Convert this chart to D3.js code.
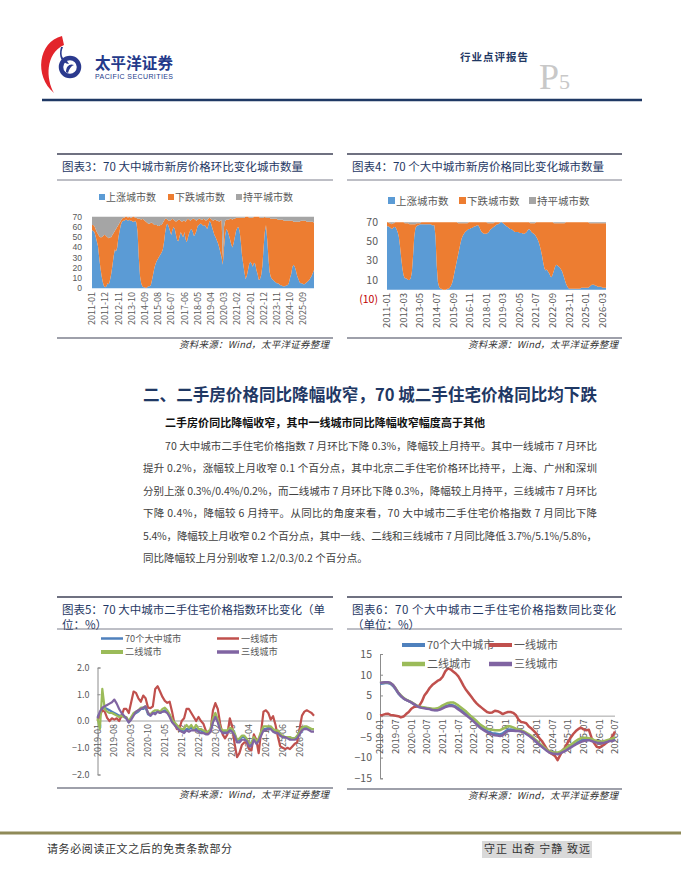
<!DOCTYPE html>
<html>
<head>
<meta charset="utf-8">
<script src="https://cdn.jsdelivr.net/npm/d3@7"></script>
<style>
body { margin: 0; background: #fff; }
svg { display: block; font-family: "Noto Sans CJK SC", "Noto Sans", sans-serif; }
</style>
</head>
<body>
<div id="page"></div>
<script>
// ---- data: new-home city counts, monthly from 2011-01 (186 months) ----
const mmUp = [57,56,55,51,46,41,30,20,12,6, 2,1,2,5,4,8,14,22,31,38, 36,40,50,56,62,65,66,66,67,67,
  66,67,66,66,65,65,66,64,55,30, 12,5,2,1,1,0,1,2,2,3, 8,14,20,24,27,29,31,33,35,38,
  45,55,62,63,60,56,52,57,60,58, 52,47,46,51,55,52,50,55,48,45, 50,54,57,58,55,51,53,56,61,62,
  63,63,62,61,62,60,58,62,66,64, 60,56,52,50,47,44,40,35,30,23, 40,52,58,56,52,48,43,40,44,50,
  56,59,60,56,46,32,24,16,9,12, 18,24,26,24,21,25,24,18,14,8, 9,13,22,40,55,62,48,30,16,11,
  9,8,7,6,5,5,4,3,3,2, 2,2,3,3,5,10,14,21,23,21, 17,12,9,6,5,5,4,4,5,6, 7,8,10,12,15,18];
const mmDown = [5,6,6,7,9,12,21,30,38,45, 50,51,49,45,45,42,36,30,23,18, 22,20,12,8,4,3,3,3,3,3,
  3,3,3,3,5,5,3,5,13,38, 56,62,66,66,65,65,63,61,61,61, 56,49,42,38,35,32,30,29,27,26,
  21,13,6,4,6,10,15,11,7,8, 13,19,21,16,11,13,16,11,17,22, 18,13,9,9,13,17,14,10,6,6,
  5,4,5,7,5,6,9,6,3,4, 7,10,15,17,19,22,25,31,37,7, 20,14,9,11,15,20,25,27,24,18,
  13,10,9,13,23,37,45,53,61,58, 52,45,43,45,48,45,46,52,56,62, 60,56,47,29,15,7,21,39,53,57,
  59,60,61,62,63,62,63,64,64,65, 64,64,63,63,61,56,52,45,42,44, 48,53,56,59,61,61,62,62,61,59, 58,57,55,53,50,46];
const mmFlat = [8,8,9,12,15,17,19,20,20,19, 18,18,19,20,21,20,20,18,16,14, 12,10,8,6,4,2,1,1,0,0,
  1,0,1,1,0,0,1,1,2,2, 2,3,2,3,4,5,6,7,7,6, 6,7,8,8,8,9,9,8,8,6,
  4,2,2,3,4,4,3,2,3,4, 5,4,3,3,4,5,4,4,5,3, 2,3,4,3,2,2,3,4,3,2,
  2,3,3,2,3,4,3,2,1,2, 3,4,3,3,4,4,5,4,3,40, 10,4,3,3,3,2,2,3,2,2,
  1,1,1,1,1,1,1,1,0,0, 0,1,1,1,1,0,0,0,0,0, 1,1,1,1,0,1,1,1,1,2,
  2,2,2,2,2,3,3,3,3,3, 4,4,4,4,4,4,4,4,5,5, 5,5,5,5,4,4,4,4,4,5, 5,5,5,5,5,6];
const mmTicks = ["2011-01","2011-12","2012-11","2013-10","2014-09","2015-08","2016-07","2017-06","2018-05",
  "2019-04","2020-03","2021-02","2022-01","2022-12","2023-11","2024-10","2025-09"];

const yyUp = [66,66,65,64,63,64,65,65,63,60, 55,45,33,22,15,12,12,11,10,10, 12,18,35,55,64,66,67,67,68,68,
  68,68,68,68,68,68,68,68,67,67, 67,55,25,8,3,1,1,0,0,0, 0,1,1,2,4,7,12,18,24,30,
  36,42,48,53,56,58,60,61,62,63, 63,64,64,65,66,66,67,67,65,62, 60,59,58,58,58,59,60,62,63,64,
  65,66,67,68,68,69,70,70,69,68, 67,66,65,64,63,63,62,61,60,60, 60,60,59,59,59,58,58,59,60,62,
  63,62,60,59,58,57,55,53,50,46, 41,35,28,22,20,21,19,17,14,13, 16,20,24,26,25,24,23,21,19,15,
  11,7,4,2,1,1,1,1,1,1, 1,1,1,1,2,2,2,2,2,2, 2,3,4,5,5,5,4,4,3,3, 3,3,2,2,2,2];
const yyDown = [4,4,4,5,5,5,4,5,7,10, 15,25,37,48,55,57,57,58,59,58, 56,50,33,13,4,3,2,2,1,2,
  2,2,2,2,2,2,2,2,3,3, 3,15,45,62,67,69,69,70,70,70, 70,69,69,68,66,63,58,52,46,40,
  33,27,21,16,13,11,9,8,7,7, 7,6,6,5,4,4,3,3,5,8, 10,11,12,12,12,10,9,7,6,5,
  4,4,3,2,2,1,0,0,1,2, 3,4,5,6,7,7,8,9,10,10, 10,10,11,11,11,12,12,11,10,8,
  7,7,9,10,11,12,15,17,20,24, 29,35,42,48,50,49,51,53,56,57, 54,49,45,43,44,45,46,48,50,54,
  58,63,66,68,69,69,69,69,69,69, 69,69,69,69,68,68,68,68,68,68, 68,66,65,64,64,64,65,65,66,66, 66,66,67,67,67,67];
const yyFlat = [0,0,1,1,2,1,1,0,0,0, 0,0,0,0,0,1,1,1,1,2, 2,2,2,2,2,1,1,1,1,0,
  0,0,0,0,0,0,0,0,0,0, 0,0,0,0,0,0,0,0,0,0, 0,0,0,0,0,0,0,0,0,0,
  1,1,1,1,1,1,1,1,1,0, 0,0,0,0,0,0,0,0,0,0, 0,0,0,0,0,1,1,1,1,1,
  1,0,0,0,0,0,0,0,0,0, 0,0,0,0,0,0,0,0,0,0, 0,0,0,0,0,0,0,0,0,0,
  0,1,1,1,1,1,0,0,0,0, 0,0,0,0,0,0,0,0,0,0, 0,1,1,1,1,1,1,1,1,1,
  1,0,0,0,0,0,0,0,0,0, 0,0,0,0,0,0,0,0,0,0, 0,1,1,1,1,1,1,1,1,1, 1,1,1,1,1,1];
const yyTicks = ["2011-01","2012-03","2013-05","2014-07","2015-09","2016-11","2018-01","2019-03",
  "2020-05","2021-07","2022-09","2023-11","2025-01","2026-03"];

// ---- data: second-hand price index, monthly from 2019-01 (91 months), % ----
const momAll = [0.15,0.3,0.45,0.5,0.45,0.4,0.35,0.3,0.25,0.2, 0.2,0.15,0.1,-0.05,0.1,0.25,0.3,0.35,0.45,0.45,
  0.5,0.25,0.2,0.3,0.3,0.35,0.3,0.35,0.4,0.35, 0.2,0.0,-0.1,-0.2,-0.3,-0.35,-0.4,-0.3,-0.3,-0.25,
  -0.3,-0.3,-0.35,-0.35,-0.4,-0.45,-0.45,-0.4,0.0,0.2, 0.0,-0.3,-0.4,-0.4,-0.4,-0.3,-0.35,-0.5,-0.75,-0.7,
  -0.6,-0.6,-0.7,-0.9,-0.85,-0.65,-0.8,-0.7,-0.5,-0.3, -0.3,-0.25,-0.25,-0.35,-0.4,-0.4,-0.55,-0.6,-0.6,-0.6,
  -0.65,-0.65,-0.65,-0.6,-0.45,-0.3,-0.25,-0.25,-0.3,-0.3, -0.3];
const momT1 = [0.0,0.2,0.4,0.35,0.12,0.0,0.1,0.05,0.1,0.0, 0.2,0.45,0.45,0.3,0.7,1.1,1.05,0.85,0.72,0.95,
  0.85,0.5,0.48,0.55,1.2,1.3,1.1,0.9,0.75,0.68, 0.72,0.35,-0.1,-0.3,-0.3,0.0,0.1,0.45,0.45,0.3,
  0.15,0.0,0.15,0.0,-0.1,-0.35,-0.48,-0.35,0.4,0.67, 0.45,-0.1,-0.5,-0.65,-0.5,0.1,-0.2,-0.85,-1.35,-1.2,
  -0.9,-0.8,-0.8,-1.05,-1.1,-0.5,-0.7,-1.2,-0.4,0.35, 0.4,0.3,0.05,0.18,-0.15,-0.6,-0.95,-1.0,-1.05,-1.0,
  -1.05,-0.95,-0.85,-0.8,-0.3,0.2,0.35,0.4,0.35,0.3, 0.2];
const momT2 = [0.1,-0.3,1.2,0.45,0.35,0.3,0.3,0.25,0.2,0.15, 0.2,0.15,0.15,0.0,0.15,0.3,0.35,0.4,0.5,0.5,
  0.55,0.3,0.25,0.35,0.4,0.4,0.35,0.45,0.5,0.4, 0.25,0.05,-0.05,-0.15,-0.25,-0.3,-0.3,-0.15,-0.25,-0.15,
  -0.3,-0.15,-0.3,-0.3,-0.35,-0.4,-0.4,-0.3,0.1,0.3, 0.05,-0.25,-0.35,-0.35,-0.35,-0.25,-0.3,-0.45,-0.7,-0.65,
  -0.55,-0.55,-0.65,-0.85,-0.8,-0.6,-0.75,-0.65,-0.4,-0.2, -0.2,-0.2,-0.2,-0.3,-0.35,-0.35,-0.5,-0.55,-0.6,-0.6,
  -0.6,-0.65,-0.65,-0.55,-0.4,-0.25,-0.2,-0.2,-0.25,-0.3, -0.3];
const momT3 = [0.1,0.35,0.5,0.55,0.6,0.65,0.7,0.8,0.65,0.45, 0.3,0.2,0.1,-0.05,0.05,0.2,0.35,0.4,0.45,0.5,
  0.55,0.3,0.2,0.3,0.25,0.35,0.3,0.35,0.35,0.3, 0.15,-0.05,-0.15,-0.25,-0.35,-0.4,-0.45,-0.35,-0.4,-0.35,
  -0.35,-0.35,-0.4,-0.45,-0.45,-0.5,-0.5,-0.4,-0.05,0.15, -0.05,-0.35,-0.45,-0.45,-0.45,-0.35,-0.4,-0.55,-0.8,-0.8,
  -0.7,-0.7,-0.75,-0.95,-0.95,-0.7,-0.85,-0.75,-0.55,-0.35, -0.35,-0.3,-0.3,-0.4,-0.45,-0.45,-0.55,-0.6,-0.6,-0.65,
  -0.7,-0.7,-0.7,-0.65,-0.5,-0.35,-0.3,-0.3,-0.35,-0.4, -0.4];
const momTicks = ["2019-01","2019-08","2020-03","2020-10","2021-05","2021-12","2022-07","2023-02",
  "2023-09","2024-04","2024-11","2025-06","2026-01"];

const yoyAll = [7.8,7.9,8.0,8.0,7.8,7.3,6.5,5.5,4.8,4.3, 3.9,3.6,3.3,2.9,2.5,2.2,2.1,2.0,1.9,1.8,
  1.6,1.5,1.5,1.8,2.1,2.4,2.6,2.7,2.6,2.3, 1.9,1.5,1.0,0.5,0.0,-0.5,-1.0,-1.6,-2.2,-2.7,
  -3.2,-3.6,-3.9,-4.1,-4.2,-4.3,-4.4,-4.2,-3.7,-3.3, -3.2,-3.3,-3.4,-3.4,-3.5,-3.8,-4.2,-4.6,-5.0,-5.6,
  -6.2,-6.8,-7.3,-7.8,-8.3,-8.7,-8.9,-9.0,-9.0,-8.9, -8.5,-8.2,-7.8,-7.4,-7.0,-6.6,-6.2,-5.9,-5.7,-5.6,
  -5.6,-5.8,-6.0,-6.2,-6.3,-6.3,-6.2,-6.0,-5.8,-5.6, -5.4];
const yoyT1 = [0.2,0.3,0.5,0.6,0.3,0.2,0.1,0.0,-0.3,-0.1, 0.5,1.0,1.8,2.2,2.3,2.5,3.5,5.0,5.8,6.8,
  7.5,8.0,8.5,8.8,9.5,10.8,11.5,11.3,10.8,10.3, 9.6,8.5,7.3,6.3,5.5,4.7,3.8,3.1,2.5,2.0,
  1.5,1.0,0.8,0.9,1.3,1.2,0.9,0.5,0.8,1.0, 1.0,0.8,0.3,-0.8,-1.4,-1.5,-1.7,-2.5,-3.0,-3.6,
  -4.3,-5.3,-6.0,-7.0,-8.0,-8.8,-9.2,-9.6,-10.6,-9.4, -8.2,-7.5,-6.2,-5.2,-4.3,-3.6,-3.1,-2.8,-3.2,-3.4,
  -3.3,-5.2,-6.5,-7.4,-7.6,-7.2,-6.8,-6.3,-5.8,-4.9, -3.7];
const yoyT2 = [8.0,8.1,8.2,8.2,8.0,7.5,6.7,5.7,5.0,4.4, 4.0,3.7,3.4,3.0,2.6,2.3,2.2,2.1,2.0,1.9,
  1.8,1.8,1.9,2.2,2.6,2.9,3.2,3.3,3.3,3.0, 2.6,2.1,1.6,1.1,0.5,-0.1,-0.6,-1.2,-1.8,-2.3,
  -2.7,-3.0,-3.2,-3.3,-3.4,-3.4,-3.4,-3.1,-2.7,-2.4, -2.5,-2.7,-3.0,-3.2,-3.4,-3.7,-4.0,-4.4,-4.8,-5.4,
  -6.0,-6.6,-7.1,-7.6,-8.1,-8.5,-8.7,-8.8,-8.8,-8.6, -8.2,-7.8,-7.3,-6.9,-6.5,-6.0,-5.6,-5.3,-5.2,-5.2,
  -5.3,-5.5,-5.8,-6.0,-6.1,-6.1,-6.0,-5.8,-5.6,-5.4, -5.1];
const yoyT3 = [8.0,8.1,8.2,8.2,8.0,7.5,6.6,5.6,4.9,4.3, 3.9,3.6,3.3,2.9,2.5,2.2,2.0,1.9,1.8,1.7,
  1.5,1.4,1.4,1.6,1.9,2.2,2.4,2.5,2.4,2.1, 1.6,1.2,0.7,0.2,-0.3,-0.8,-1.4,-2.0,-2.6,-3.1,
  -3.5,-3.9,-4.2,-4.4,-4.6,-4.7,-4.8,-4.6,-4.0,-3.6, -3.5,-3.5,-3.6,-3.6,-3.7,-3.9,-4.3,-4.7,-5.2,-5.7,
  -6.3,-6.9,-7.4,-7.9,-8.4,-8.8,-9.0,-9.1,-9.2,-9.0, -8.7,-8.4,-8.0,-7.6,-7.2,-6.8,-6.5,-6.2,-6.0,-5.9,
  -5.8,-6.0,-6.2,-6.4,-6.5,-6.5,-6.4,-6.2,-6.0,-6.0, -5.8];
const yoyTicks = ["2019-01","2019-07","2020-01","2020-07","2021-01","2021-07","2022-01","2022-07",
  "2023-01","2023-07","2024-01","2024-07","2025-01","2025-07","2026-01","2026-07"];

const stackNames = ["上涨城市数", "下跌城市数", "持平城市数"];
const lineNames = ["70个大中城市", "一线城市", "二线城市", "三线城市"];

const body = [
  "70 大中城市二手住宅价格指数 7 月环比下降 0.3%，降幅较上月持平。其中一线城市 7 月环比",
  "提升 0.2%，涨幅较上月收窄 0.1 个百分点，其中北京二手住宅价格环比持平，上海、广州和深圳",
  "分别上涨 0.3%/0.4%/0.2%，而二线城市 7 月环比下降 0.3%，降幅较上月持平，三线城市 7 月环比",
  "下降 0.4%，降幅较 6 月持平。从同比的角度来看，70 大中城市二手住宅价格指数 7 月同比下降",
  "5.4%，降幅较上月收窄 0.2 个百分点，其中一线、二线和三线城市 7 月同比降低 3.7%/5.1%/5.8%，",
  "同比降幅较上月分别收窄 1.2/0.3/0.2 个百分点。"
];

const stackColors = ["#5b9bd5", "#ed7d31", "#a5a5a5"];
const lineColors = ["#4f81bd", "#c0504d", "#9bbb59", "#8064a2"];
const navy = "#1f3864";
const grey = "#595959";

function months(y, m, n) {
  return d3.range(n).map(i => {
    const t = y * 12 + (m - 1) + i;
    return Math.floor(t / 12) + "-" + String(t % 12 + 1).padStart(2, "0");
  });
}

const svg = d3.select("#page").append("svg")
  .attr("width", 681)
  .attr("height", 881);

function text(g, x, y, s, size, fill, extra) {
  const t = g.append("text").attr("x", x).attr("y", y).attr("font-size", size).attr("fill", fill).text(s);
  if (extra) Object.entries(extra).forEach(([k, v]) => t.attr(k, v));
  return t;
}

// ---- page header ----
const head = svg.append("g");
head.append("path")
  .attr("d", "M62,36 C38,42 34,76 54,93 C46,79 45,54 64,45 Z")
  .attr("fill", "#e3242b");
head.append("circle").attr("cx", 70).attr("cy", 67).attr("r", 9)
  .attr("fill", "none").attr("stroke", "#2b3a8e").attr("stroke-width", 4.5);
head.append("path")
  .attr("d", "M63,47 C60,54 62,59 67,61 L69,64 C62,63 58,57 61,47 Z")
  .attr("fill", "#2b3a8e");
head.append("path")
  .attr("d", "M66,72 C66,66 70,63 74,65 C71,66 69,69 68,73 Z")
  .attr("fill", "#2b3a8e");
text(head, 95, 69, "太平洋证券", 15.5, "#243a8a", { "font-weight": 700, textLength: 78 });
text(head, 95, 79, "PACIFIC SECURITIES", 7, "#243a8a", { textLength: 78, "font-family": "Liberation Sans" });
text(head, 460, 61, "行业点评报告", 10.5, navy, { "font-weight": 700, textLength: 68 });
const pg = text(head, 539, 89, "P", 36, "#c8c8c8", { "font-family": "Liberation Serif" });
pg.append("tspan").attr("font-size", 22).text("5");
head.append("line").attr("x1", 42).attr("x2", 642).attr("y1", 100).attr("y2", 100)
  .attr("stroke", navy).attr("stroke-width", 2.5);

// ---- chart frame: rules, title, source ----
function frame(x0, x1, top, titleLines, titleW, sep, bottom) {
  const g = svg.append("g");
  g.append("line").attr("x1", x0).attr("x2", x1).attr("y1", top).attr("y2", top)
    .attr("stroke", "#3f4257").attr("stroke-width", 1.6);
  titleLines.forEach((s, i) => {
    const t = text(g, x0 + 5, top + 17 + i * 15, s, 11.5, navy);
    if (titleW[i]) t.attr("textLength", titleW[i]).attr("lengthAdjust", "spacing");
  });
  g.append("line").attr("x1", x0).attr("x2", x1).attr("y1", sep).attr("y2", sep)
    .attr("stroke", "#5a5d70").attr("stroke-width", 0.8);
  g.append("line").attr("x1", x0).attr("x2", x1).attr("y1", bottom).attr("y2", bottom)
    .attr("stroke", "#3f4257").attr("stroke-width", 1.2);
  text(g, x1 - 4, bottom + 10, "资料来源：Wind，太平洋证券整理", 9.5, "#333",
    { "text-anchor": "end", "font-style": "italic", textLength: 150 });
  return g;
}

// ---- stacked area chart of city counts ----
function stackChart(o) {
  const g = svg.append("g");
  const cats = months(2011, 1, o.up.length);
  const rows = cats.map((c, i) => ({ cat: c, up: o.up[i], down: o.down[i], flat: o.flat[i] }));
  const series = d3.stack().keys(["up", "down", "flat"])(rows);
  const x = d3.scalePoint().domain(cats).range([o.x0, o.x1]);
  const y = d3.scaleLinear().domain(o.yDomain).range([o.yBottom, o.yTop]);
  const area = d3.area()
    .x(d => x(d.data.cat))
    .y0(d => y(d[0]))
    .y1(d => y(d[1]));

  g.selectAll("path.area")
    .data(series)
    .join("path")
    .attr("class", "area")
    .attr("fill", (d, i) => stackColors[i])
    .attr("d", area);

  g.selectAll("text.yt")
    .data(o.yTicks)
    .join("text")
    .attr("class", "yt")
    .attr("x", o.x0 - o.yPad)
    .attr("y", d => y(d))
    .attr("dy", "0.35em")
    .attr("text-anchor", "end")
    .attr("font-size", o.yFont)
    .attr("font-family", o.yFamily || null)
    .attr("fill", d => d < 0 ? "#c00000" : grey)
    .text(d => d < 0 ? "(" + Math.abs(d) + ")" : d);

  g.selectAll("text.xt")
    .data(o.xTicks)
    .join("text")
    .attr("class", "xt")
    .attr("transform", d => `translate(${x(d) + o.xFont * 0.35},${o.labelY}) rotate(-90)`)
    .attr("text-anchor", "end")
    .attr("font-size", o.xFont)
    .attr("fill", grey)
    .text(d => d);

  // legend
  stackNames.forEach((s, i) => {
    g.append("rect").attr("x", o.legX[i]).attr("y", o.legY - o.sq + 1)
      .attr("width", o.sq).attr("height", o.sq).attr("fill", stackColors[i]);
    text(g, o.legX[i] + o.sq + 1, o.legY + 2, s, o.legFont, grey);
  });
}

// ---- line chart of price index ----
function lineChart(o) {
  const g = svg.append("g");
  const cats = months(2019, 1, o.series[0].length);
  const x = d3.scalePoint().domain(cats).range([o.x0, o.x1]);
  const y = d3.scaleLinear().domain(o.yDomain).range([o.yBottom, o.yTop]);

  const yAxis = d3.axisLeft(y)
    .tickValues(o.yTicks)
    .tickSize(-3)
    .tickPadding(o.yPad)
    .tickFormat(o.yFormat);
  const ya = g.append("g").attr("transform", `translate(${o.x0},0)`).call(yAxis);
  ya.select(".domain").attr("stroke", "#8c8c8c");
  ya.selectAll(".tick line").attr("stroke", "#8c8c8c");
  ya.selectAll(".tick text").attr("fill", grey).attr("font-size", o.yFont)
    .attr("font-family", "Noto Sans CJK SC");

  g.append("line").attr("x1", o.x0).attr("x2", o.x1).attr("y1", y(0)).attr("y2", y(0))
    .attr("stroke", "#8c8c8c").attr("stroke-width", 0.8);

  g.selectAll("text.xt")
    .data(o.xTicks)
    .join("text")
    .attr("class", "xt")
    .attr("transform", d => `translate(${x(d) + o.xFont * 0.35},${y(0) + 3}) rotate(-90)`)
    .attr("text-anchor", "end")
    .attr("font-size", o.xFont)
    .attr("fill", grey)
    .text(d => d);

  const line = d3.line()
    .x((d, i) => x(cats[i]))
    .y(d => y(d));

  g.selectAll("path.ln")
    .data(o.series)
    .join("path")
    .attr("class", "ln")
    .attr("fill", "none")
    .attr("stroke", (d, i) => lineColors[i])
    .attr("stroke-width", o.lineW)
    .attr("stroke-linejoin", "round")
    .attr("d", line);

  lineNames.forEach((s, i) => {
    const lx = o.legX[i % 2], ly = o.legY[Math.floor(i / 2)];
    g.append("line").attr("x1", lx).attr("x2", lx + o.legLen).attr("y1", ly).attr("y2", ly)
      .attr("stroke", lineColors[i]).attr("stroke-width", o.legW[i]);
    text(g, lx + o.legLen + 2, ly, s, o.legFont, grey, { dy: "0.35em" });
  });
}

// chart 3
frame(57, 333, 154, ["图表3：70 大中城市新房价格环比变化城市数量"], [241], 180, 338);
stackChart({
  up: mmUp, down: mmDown, flat: mmFlat,
  x0: 92, x1: 314, yTop: 216.7, yBottom: 288.3, yDomain: [0, 70],
  yTicks: d3.range(0, 71, 10), yPad: 10, yFont: 8.6, yFamily: "Liberation Sans",
  xTicks: mmTicks, labelY: 292, xFont: 9,
  legX: [99, 168, 236], legY: 199, sq: 6, legFont: 10
});

// chart 4
frame(347, 622, 154, ["图表4：70 个大中城市新房价格同比变化城市数量"], [252], 180, 338);
stackChart({
  up: yyUp, down: yyDown, flat: yyFlat,
  x0: 387, x1: 606, yTop: 222.3, yBottom: 299.3, yDomain: [-10, 70],
  yTicks: [-10, 10, 30, 50, 70], yPad: 9, yFont: 10.5,
  xTicks: yyTicks, labelY: 293, xFont: 9.5,
  legX: [388, 459, 529], legY: 203, sq: 7, legFont: 10.5
});

// section text
const sec = svg.append("g");
text(sec, 143, 401, "二、二手房价格同比降幅收窄，70 城二手住宅价格同比均下跌", 16.5, navy,
  { "font-weight": 700, textLength: 454, lengthAdjust: "spacingAndGlyphs" });
text(sec, 165, 427, "二手房价同比降幅收窄，其中一线城市同比降幅收窄幅度高于其他", 11, "#111",
  { "font-weight": 700, textLength: 320 });
body.forEach((s, i) => {
  const t = text(sec, i === 0 ? 165 : 143, 450 + i * 22.4, s, 10.5, "#404040");
  if (i < body.length - 1) t.attr("textLength", i === 0 ? 432 : 454).attr("lengthAdjust", "spacing");
});

// chart 5
frame(57, 333, 597, ["图表5：70 大中城市二手住宅价格指数环比变化（单", "位：%）"], [263, 0], 629, 788);
lineChart({
  series: [momAll, momT1, momT2, momT3],
  x0: 97.5, x1: 314, yTop: 667.5, yBottom: 774.5, yDomain: [-2, 2],
  yTicks: [-2, -1, 0, 1, 2], yFormat: d3.format(".1f"), yPad: 8, yFont: 9,
  xTicks: momTicks, xFont: 9, lineW: 2.2,
  legX: [101, 217], legY: [638.5, 652], legLen: 22, legW: [2.5, 2.5, 4, 3.5], legFont: 9.2
});

// chart 6
frame(347, 622, 597, ["图表6：70 个大中城市二手住宅价格指数同比变化", "（单位：%）"], [264, 0], 629, 789);
lineChart({
  series: [yoyAll, yoyT1, yoyT2, yoyT3],
  x0: 380, x1: 615, yTop: 654, yBottom: 778.3, yDomain: [-15, 15],
  yTicks: [-15, -10, -5, 0, 5, 10, 15], yFormat: d3.format("d"), yPad: 8, yFont: 10.5,
  xTicks: yoyTicks, xFont: 9.5, lineW: 2.5,
  legX: [402, 489], legY: [645, 664], legLen: 23, legW: [4, 4, 4.5, 4.5], legFont: 11
});

// ---- footer ----
const foot = svg.append("g");
foot.append("line").attr("x1", 0).attr("x2", 681).attr("y1", 833).attr("y2", 833)
  .attr("stroke", "#8f8a58").attr("stroke-width", 3);
text(foot, 47, 853, "请务必阅读正文之后的免责条款部分", 11, "#333", { textLength: 185 });
foot.append("rect").attr("x", 482).attr("y", 841).attr("width", 110).attr("height", 17).attr("fill", "#d9d9d9");
text(foot, 484, 853, "守正 出奇 宁静 致远", 11, "#333", { textLength: 106 });
</script>
</body>
</html>
